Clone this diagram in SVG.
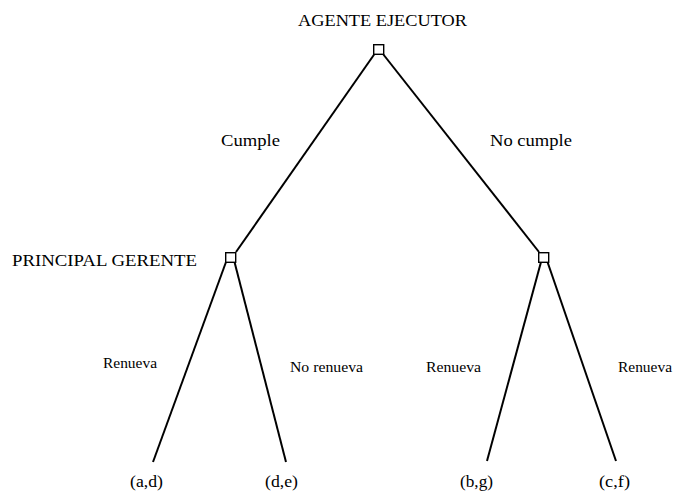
<svg xmlns="http://www.w3.org/2000/svg" width="674" height="495" viewBox="0 0 674 495">
<style>
.t{font-family:"Liberation Serif","Times New Roman",serif;fill:#000}
.big{font-size:16.5px}
.sm{font-size:14.5px}
.lf{font-size:16.5px}
.box{fill:#fff;stroke:#000;stroke-width:1.4}
.edge{stroke:#000;stroke-width:2;fill:none}
</style>
<rect width="674" height="495" fill="#fff"/>
<g id="connectors">
<line class="edge" x1="374.5" y1="54" x2="236" y2="252"/>
<line class="edge" x1="383" y1="54" x2="539" y2="252"/>
<line class="edge" x1="226" y1="262" x2="153" y2="462"/>
<line class="edge" x1="234.5" y1="262" x2="286" y2="462"/>
<line class="edge" x1="541" y1="262" x2="487" y2="461"/>
<line class="edge" x1="547.5" y1="262" x2="616" y2="461"/>
<text class="t big" x="221" y="146" textLength="59" lengthAdjust="spacingAndGlyphs">Cumple</text>
<text class="t big" x="490" y="146" textLength="82" lengthAdjust="spacingAndGlyphs">No cumple</text>
<text class="t sm" x="103" y="368" textLength="54" lengthAdjust="spacingAndGlyphs">Renueva</text>
<text class="t sm" x="290" y="372" textLength="73" lengthAdjust="spacingAndGlyphs">No renueva</text>
<text class="t sm" x="426" y="372" textLength="55" lengthAdjust="spacingAndGlyphs">Renueva</text>
<text class="t sm" x="618" y="372" textLength="54" lengthAdjust="spacingAndGlyphs">Renueva</text>
</g>
<g id="node-agente">
<rect class="box" x="373.7" y="44.7" width="10" height="9.6"/>
<text class="t big" x="298" y="26" textLength="169" lengthAdjust="spacingAndGlyphs">AGENTE EJECUTOR</text>
</g>
<g id="node-principal">
<rect class="box" x="225.7" y="252.7" width="10" height="9.6"/>
<text class="t big" x="12" y="266" textLength="185" lengthAdjust="spacingAndGlyphs">PRINCIPAL GERENTE</text>
</g>
<g id="node-nocumple">
<rect class="box" x="538.7" y="252.7" width="10" height="9.6"/>
</g>
<g id="leaf-ad"><text class="t lf" x="130" y="487" textLength="33" lengthAdjust="spacingAndGlyphs">(a,d)</text></g>
<g id="leaf-de"><text class="t lf" x="265" y="487" textLength="33" lengthAdjust="spacingAndGlyphs">(d,e)</text></g>
<g id="leaf-bg"><text class="t lf" x="460" y="487" textLength="33" lengthAdjust="spacingAndGlyphs">(b,g)</text></g>
<g id="leaf-cf"><text class="t lf" x="599" y="487" textLength="31" lengthAdjust="spacingAndGlyphs">(c,f)</text></g>
</svg>
